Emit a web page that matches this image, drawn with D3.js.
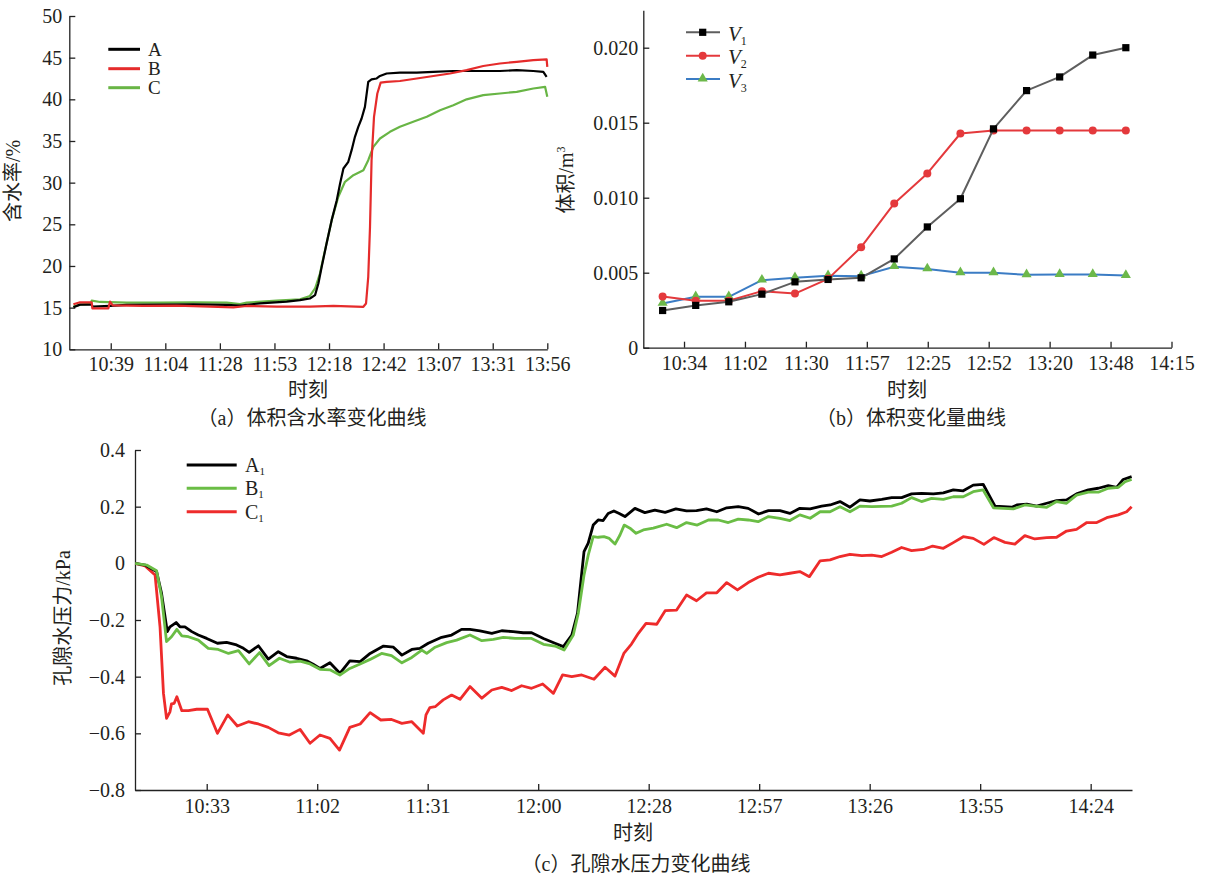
<!DOCTYPE html>
<html><head><meta charset="utf-8">
<script src="https://cdn.jsdelivr.net/npm/d3@7"></script>
<style>
body{margin:0;background:#fff}
svg text{font-family:"Liberation Serif","Times New Roman","Noto Sans CJK SC",serif;fill:#231f20}
svg .tick text{font-family:"Liberation Serif","Times New Roman",serif !important}
</style>
</head><body>
<svg id="chart" width="1205" height="881"></svg>
<script>
// ---------------- DATA (time = minutes after 10:00) ----------------
// Panel (a) volumetric water content (%)
const aTickLabels = ["10:39","11:04","11:28","11:53","12:18","12:42","13:07","13:31","13:56"];
const aYTicks = [10,15,20,25,30,35,40,45,50];
const aTimeA = [22.15,25.15,30.4,30.87,38.69,46.21,61.25,76.29,91.33,97.35,106.37,118.4,124.4,128.9,131.2,132.7,134.2,136.4,138.7,141.0,142.5,144.0,146.2,147.7,149.2,150.7,152.2,153.7,155.2,156.7,159.0,160.5,163.5,169.5,177.1,184.6,193.6,199.6,207.1,214.6,222.2,229.7,234.2,235.7];
const aValA  = [15.04,15.36,15.36,15.12,15.2,15.32,15.36,15.4,15.32,15.24,15.52,15.72,15.9,16.1,16.5,17.9,19.9,22.7,25.5,27.9,29.9,31.7,32.5,33.9,35.5,36.7,37.7,39.1,42.1,42.4,42.5,42.8,43.1,43.2,43.2,43.3,43.4,43.4,43.4,43.4,43.5,43.4,43.3,42.7];
const aTimeB = [22.15,25.15,30.4,30.72,37.94,38.69,39.89,53.73,68.77,83.81,94.34,100.35,113.89,128.9,139.5,153.0,154.2,155.2,156.0,156.7,157.8,159.3,160.8,163.5,169.5,177.1,184.6,192.1,199.6,207.1,214.6,222.2,229.7,235.7,236.0];
const aValB  = [15.4,15.64,15.64,14.92,14.92,15.72,15.28,15.2,15.24,15.12,15.04,15.2,15.12,15.12,15.2,15.1,15.5,18.7,24.7,32.7,37.9,40.7,42.0,42.1,42.2,42.5,42.8,43.1,43.5,44.0,44.3,44.5,44.7,44.8,43.9];
const aTimeC = [22.15,25.15,29.97,30.42,34.18,46.21,61.25,76.29,91.33,97.35,100.35,113.89,124.4,128.9,131.2,133.4,135.7,138.7,141.7,144.7,148.5,153.0,155.2,157.5,160.5,165.0,169.5,175.5,181.6,187.6,193.6,199.6,207.1,214.6,222.2,229.7,235.0,236.0];
const aValC  = [15.12,15.36,15.44,15.84,15.68,15.6,15.6,15.64,15.6,15.44,15.6,15.84,16.0,16.4,17.3,19.1,21.9,25.5,28.3,30.1,30.9,31.5,32.7,34.3,35.3,36.1,36.7,37.3,37.9,38.7,39.3,40.0,40.5,40.7,40.9,41.3,41.5,40.3];

// Panel (b) volume change (m3)
const bTickLabels = ["10:34","11:02","11:30","11:57","12:25","12:52","13:20","13:48","14:15"];
const bYTicks = [0,0.005,0.010,0.015,0.020];
const bYLabels = ["0","0.005","0.010","0.015","0.020"];
const bTimes = [24.3,39.3,54.3,69.3,84.3,99.3,114.3,129.3,144.3,159.3,174.3,189.3,204.3,219.3,234.3];
const bV1 = [0.00248,0.00282,0.00306,0.00357,0.00439,0.00455,0.00466,0.00592,0.00805,0.00993,0.01459,0.01714,0.01805,0.01951,0.0200];
const bV2 = [0.00341,0.00313,0.00313,0.00377,0.00361,0.00459,0.00670,0.00962,0.01162,0.01428,0.01448,0.01448,0.01448,0.01448,0.01448];
const bV3 = [0.00295,0.00339,0.00339,0.00450,0.00466,0.00479,0.00477,0.00540,0.00525,0.00499,0.00499,0.00486,0.00488,0.00488,0.00481];

// Panel (c) pore water pressure (kPa)
const cTickLabels = ["10:33","11:02","11:31","12:00","12:28","12:57","13:26","13:55","14:24"];
const cYTicks = [-0.8,-0.6,-0.4,-0.2,0,0.2,0.4];
const cYLabels = ["\u22120.8","\u22120.6","\u22120.4","\u22120.2","0","0.2","0.4"];
const cTimeA1 = [14.3,16.9,19.9,21.2,22.7,23.4,25.0,26.0,27.3,29.1,30.8,33.0,35.8,38.2,40.8,42.6,44.1,46.5,49.1,51.7,53.9,56.5,59.1,60.7,62.6,65.2,67.8,70.4,73.1,75.7,79.2,81.8,84.0,86.6,88.7,90.9,94.4,97.0,99.6,101.8,
 104.4,107.5,110.1,113.1,115.7,117.9,121.0,124.0,126.2,128.4,129.9,131.0,131.6,132.7,134.0,135.3,136.6,137.9,139.4,140.8,142.3,144.9,147.5,150.1,152.8,155.6,158.4,161.0,163.6,166.3,168.9,171.9,174.5,177.2,179.8,182.8,185.4,188.0,
 190.7,193.7,195.9,198.5,201.1,203.7,206.3,209.4,212.0,214.6,217.2,219.8,222.9,225.5,228.1,230.7,233.3,235.9,239.0,241.2,243.4,244.7,247.3,249.9,252.5,255.1,257.7,260.3,263.4,266.0,268.6,270.8,272.5,274.7];
const cValA1 = [0,-0.006,-0.029,-0.106,-0.241,-0.224,-0.209,-0.224,-0.224,-0.241,-0.253,-0.265,-0.282,-0.279,-0.288,-0.300,-0.314,-0.291,-0.338,-0.312,-0.329,-0.335,-0.344,-0.355,-0.371,-0.351,-0.388,-0.344,-0.347,-0.318,-0.292,-0.296,-0.324,-0.304,-0.300,-0.282,-0.261,-0.253,-0.233,-0.233,
 -0.238,-0.247,-0.238,-0.241,-0.245,-0.245,-0.265,-0.282,-0.294,-0.253,-0.176,-0.035,0.041,0.071,0.135,0.153,0.151,0.176,0.185,0.176,0.165,0.194,0.179,0.188,0.180,0.192,0.185,0.186,0.192,0.182,0.196,0.200,0.194,0.174,0.186,0.186,0.176,0.194,
 0.192,0.202,0.206,0.218,0.198,0.224,0.220,0.226,0.232,0.232,0.245,0.247,0.245,0.249,0.259,0.256,0.276,0.279,0.202,0.200,0.198,0.206,0.209,0.202,0.212,0.221,0.224,0.245,0.259,0.265,0.274,0.268,0.296,0.306];
const cTimeB1 = [14.3,17.3,19.9,21.2,22.5,23.8,25.2,26.5,28.2,30.8,33.4,36.0,38.7,41.3,44.1,46.8,49.3,52.0,54.8,57.4,60.0,62.6,65.2,67.8,70.4,73.1,75.7,78.7,81.3,84.0,86.6,89.2,90.5,92.7,95.7,98.3,101.8,
 104.9,107.9,110.5,113.6,117.9,121.0,124.0,126.4,128.8,130.1,131.6,132.7,134.0,135.3,136.8,138.2,139.7,141.0,142.1,143.6,145.2,147.1,149.7,153.2,155.8,158.4,161.2,164.1,166.7,169.3,171.9,174.5,177.1,179.8,182.8,185.4,188.0,
 190.7,193.3,195.9,198.5,201.1,203.7,206.8,212.0,214.6,217.2,219.8,222.4,225.5,228.1,230.7,233.3,235.9,238.6,241.2,243.8,246.8,249.4,252.5,255.1,257.7,260.3,263.4,266.0,268.6,271.2,273.0,274.7];
const cValB1 = [0,-0.006,-0.026,-0.118,-0.276,-0.259,-0.233,-0.256,-0.259,-0.271,-0.300,-0.304,-0.318,-0.308,-0.355,-0.315,-0.361,-0.335,-0.349,-0.345,-0.355,-0.374,-0.376,-0.394,-0.371,-0.355,-0.339,-0.318,-0.326,-0.351,-0.332,-0.306,-0.318,-0.296,-0.280,-0.271,-0.253,
 -0.273,-0.268,-0.261,-0.265,-0.265,-0.286,-0.292,-0.306,-0.253,-0.176,-0.041,0.029,0.094,0.092,0.094,0.088,0.068,0.100,0.135,0.124,0.106,0.118,0.124,0.138,0.126,0.144,0.135,0.153,0.153,0.144,0.156,0.153,0.147,0.165,0.159,0.151,0.171,
 0.159,0.182,0.182,0.200,0.182,0.202,0.200,0.202,0.212,0.232,0.218,0.229,0.226,0.235,0.235,0.253,0.259,0.196,0.194,0.192,0.206,0.202,0.198,0.218,0.212,0.241,0.251,0.251,0.265,0.268,0.288,0.296];
const cTimeC1 = [14.3,16.9,19.5,20.8,21.7,22.5,23.4,23.8,24.5,25.2,26.5,28.2,30.4,33.2,35.8,38.5,41.0,43.9,46.5,49.1,51.7,54.6,57.4,60.0,62.6,65.2,67.7,70.4,73.1,75.7,78.5,81.3,84.0,86.6,89.6,90.3,91.3,92.7,94.8,97.0,99.2,101.8,
 104.9,107.5,110.1,112.7,115.3,117.9,120.8,123.6,126.0,128.4,131.0,134.2,137.1,139.7,142.0,144.0,145.8,147.8,150.6,152.8,155.8,158.4,161.0,163.6,166.3,168.9,171.7,174.5,177.1,179.8,182.8,185.4,188.0,
 190.5,193.3,195.9,198.5,201.1,204.2,206.8,209.4,212.0,214.6,217.2,220.3,222.7,225.5,228.1,230.7,233.3,236.1,238.7,241.6,244.2,246.8,249.4,252.5,255.1,257.7,260.3,263.0,265.6,268.2,271.2,273.4,274.7];
const cValC1 = [0,-0.009,-0.041,-0.224,-0.459,-0.547,-0.524,-0.496,-0.494,-0.471,-0.520,-0.520,-0.515,-0.515,-0.600,-0.535,-0.574,-0.559,-0.567,-0.579,-0.598,-0.606,-0.586,-0.635,-0.606,-0.618,-0.659,-0.579,-0.567,-0.527,-0.553,-0.551,-0.565,-0.559,-0.600,-0.535,-0.509,-0.506,-0.482,-0.465,-0.480,-0.435,
 -0.476,-0.447,-0.438,-0.449,-0.432,-0.441,-0.426,-0.459,-0.394,-0.400,-0.394,-0.409,-0.367,-0.398,-0.318,-0.285,-0.247,-0.212,-0.215,-0.167,-0.165,-0.112,-0.132,-0.104,-0.104,-0.068,-0.094,-0.068,-0.049,-0.035,-0.041,-0.035,-0.029,
 -0.047,0.009,0.012,0.024,0.032,0.027,0.029,0.024,0.039,0.056,0.045,0.049,0.061,0.053,0.073,0.094,0.088,0.067,0.091,0.074,0.068,0.098,0.086,0.091,0.092,0.114,0.120,0.144,0.144,0.161,0.171,0.182,0.200];

// ---------------- DRAWING ----------------
const svg = d3.select("#chart");
const AX = "#222";
const SERIF = '"Liberation Serif","Times New Roman",serif';

function styleAxis(g, fs){
  g.attr("font-family", SERIF).attr("font-size", fs);
  g.select("path.domain").attr("stroke", AX).attr("stroke-width", 1.3);
  g.selectAll(".tick line").attr("stroke", AX).attr("stroke-width", 1.3);
  g.selectAll(".tick text").attr("font-size", fs).attr("fill", "#231f20")
    .attr("font-family", SERIF).style("font-family", SERIF);
}
function drawAxes(x, y, xTicks, xLabels, yTicks, yLabels, xPad, yPad){
  const gx = svg.append("g").attr("transform", `translate(0,${y.range()[0]})`)
    .call(d3.axisBottom(x).tickValues(xTicks).tickFormat((d,i)=>xLabels[i]).tickSizeInner(-6).tickSizeOuter(0).tickPadding(xPad));
  styleAxis(gx, 20);
  const gy = svg.append("g").attr("transform", `translate(${x.range()[0]},0)`)
    .call(d3.axisLeft(y).tickValues(yTicks).tickFormat((d,i)=>yLabels[i]).tickSizeInner(-6).tickSizeOuter(0).tickPadding(yPad));
  styleAxis(gy, 20);
}
function drawLine(x, y, ts, vs, color, w){
  const line = d3.line().x(d=>x(d[0])).y(d=>y(d[1]));
  svg.append("path").datum(d3.zip(ts, vs)).attr("d", line)
    .attr("fill","none").attr("stroke", color).attr("stroke-width", w)
    .attr("stroke-linejoin","round");
}
function text(x, y, str, opts={}){
  const t = svg.append("text").attr("x", x).attr("y", y).attr("font-size", opts.fs || 20)
    .attr("text-anchor", opts.anchor || "middle").text(str);
  if (opts.rotate) t.attr("transform", `rotate(-90,${x},${y})`);
  return t;
}

// ===== Panel (a) =====
const xA = d3.scaleLinear().domain([20.3, 236]).range([69.3, 547.3]);
const yA = d3.scaleLinear().domain([10, 50]).range([349.3, 16]);
drawAxes(xA, yA, aTickLabels.map((d,i)=>39 + i*24.625), aTickLabels, aYTicks, aYTicks.map(String), 8, 7);
const colA = "#000000", colB = "#e52b2b", colC = "#68b545";
drawLine(xA, yA, aTimeC, aValC, colC, 2.2);
drawLine(xA, yA, aTimeA, aValA, colA, 2.2);
drawLine(xA, yA, aTimeB, aValB, colB, 2.2);
[["A",colA],["B",colB],["C",colC]].forEach((d,i)=>{
  const yy = [49.3, 68.7, 87.7][i];
  svg.append("line").attr("x1",108.3).attr("x2",140).attr("y1",yy).attr("y2",yy).attr("stroke",d[1]).attr("stroke-width",3);
  text(148, yy+6.5, d[0], {anchor:"start", fs:19});
});
text(20, 181, "含水率/%", {rotate:true});
text(308, 397, "时刻");
text(312, 425, "（a）体积含水率变化曲线");

// ===== Panel (b) =====
const xB = d3.scaleLinear().domain([15.54, 255]).range([643.3, 1171.5]);
const yB = d3.scaleLinear().domain([0, 0.0225]).range([347.7, 10.2]);
drawAxes(xB, yB, bTickLabels.map((d,i)=>34 + i*27.625), bTickLabels, bYTicks, bYLabels, 8, 5);
const colV1 = "#5e5e5e", colV2 = "#e4393c", colV3 = "#3b7cc4", colTri = "#6cb84a";
const tri = d3.symbol().type(d3.symbolTriangle).size(44);
function seriesB(vals, lineCol, marker){
  drawLine(xB, yB, bTimes, vals, lineCol, 2);
  const pts = d3.zip(bTimes, vals);
  if (marker === "sq") svg.append("g").selectAll("rect").data(pts).join("rect")
    .attr("x", d=>xB(d[0])-3.6).attr("y", d=>yB(d[1])-3.6).attr("width",7.2).attr("height",7.2).attr("fill","#000");
  if (marker === "ci") svg.append("g").selectAll("circle").data(pts).join("circle")
    .attr("cx", d=>xB(d[0])).attr("cy", d=>yB(d[1])).attr("r",4).attr("fill",colV2);
  if (marker === "tr") svg.append("g").selectAll("path").data(pts).join("path")
    .attr("d", tri).attr("transform", d=>`translate(${xB(d[0])},${yB(d[1])-0.5})`).attr("fill",colTri);
}
seriesB(bV3, colV3, "tr");
seriesB(bV2, colV2, "ci");
seriesB(bV1, colV1, "sq");
// legend (b)
[["1",colV1,"sq"],["2",colV2,"ci"],["3",colV3,"tr"]].forEach((d,i)=>{
  const yy = [32.3, 55.7, 79][i];
  svg.append("line").attr("x1",686).attr("x2",720).attr("y1",yy).attr("y2",yy).attr("stroke",d[1]).attr("stroke-width",2);
  if (d[2]==="sq") svg.append("rect").attr("x",702.7-3.6).attr("y",yy-3.6).attr("width",7.2).attr("height",7.2).attr("fill","#000");
  if (d[2]==="ci") svg.append("circle").attr("cx",702.7).attr("cy",yy).attr("r",4).attr("fill",colV2);
  if (d[2]==="tr") svg.append("path").attr("d",tri).attr("transform",`translate(702.7,${yy-0.5})`).attr("fill",colTri);
  const t = svg.append("text").attr("x",728).attr("y",yy+8.5).attr("font-size",21);
  t.append("tspan").attr("font-style","italic").text("V");
  t.append("tspan").attr("font-size",12).attr("dy",4).text(d[0]);
});
const tb = svg.append("text").attr("x",573).attr("y",180).attr("font-size",20).attr("text-anchor","middle")
  .attr("transform","rotate(-90,573,180)");
tb.append("tspan").text("体积/m");
tb.append("tspan").attr("font-size",12).attr("dy",-8).text("3");
text(907, 397, "时刻");
text(911, 425, "（b）体积变化量曲线");

// ===== Panel (c) =====
const xC = d3.scaleLinear().domain([14.26, 274.8]).range([135, 1132]);
const yC = d3.scaleLinear().domain([-0.8, 0.4]).range([790, 450]);
drawAxes(xC, yC, cTickLabels.map((d,i)=>33 + i*28.875), cTickLabels, cYTicks, cYLabels, 9, 10);
const colA1 = "#000000", colB1 = "#6abd45", colC1 = "#ee2b2b";
drawLine(xC, yC, cTimeC1, cValC1, colC1, 2.8);
drawLine(xC, yC, cTimeA1, cValA1, colA1, 2.8);
drawLine(xC, yC, cTimeB1, cValB1, colB1, 2.8);
[["A",colA1],["B",colB1],["C",colC1]].forEach((d,i)=>{
  const yy = [465, 488.3, 511.7][i];
  svg.append("line").attr("x1",186.7).attr("x2",236.7).attr("y1",yy).attr("y2",yy).attr("stroke",d[1]).attr("stroke-width",3);
  const t = svg.append("text").attr("x",245).attr("y",yy+7).attr("font-size",20);
  t.append("tspan").text(d[0]);
  t.append("tspan").attr("font-size",11).attr("dy",3).text("1");
});
text(70, 618, "孔隙水压力/kPa", {rotate:true});
text(633, 840, "时刻");
text(636, 871, "（c）孔隙水压力变化曲线");
</script>
</body></html>
